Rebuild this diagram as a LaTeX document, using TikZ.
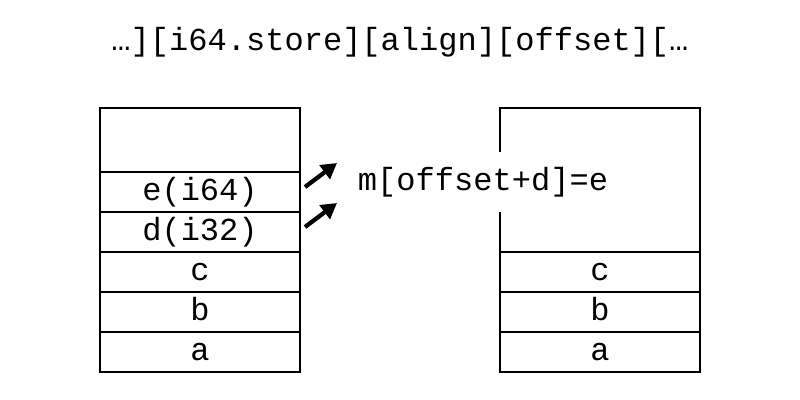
\documentclass[tikz,border=0pt]{standalone}
\usepackage{fontspec}
\setmonofont{Liberation Mono}
\usetikzlibrary{positioning,arrows.meta}

\begin{document}
\begin{tikzpicture}[
  mono/.style={font=\ttfamily\fontsize{22.8}{27}\selectfont},
  cell/.style={mono,draw,line width=0.8pt,outer sep=0pt,inner sep=0pt,
    minimum width=5cm,minimum height=1cm,text height=15pt,text depth=3.2pt},
  push/.style={line width=3pt,-{Triangle[length=11pt,width=12pt]}}
]
\useasboundingbox (0,0) rectangle (20,-10);
\node (title) at (10,-1.05) [mono] {…][i64.store][align][offset][…};
% stack before the store
\node (ltop) at (5,-3.5) [cell,minimum height=1.6cm] {};
\node (le) [cell,below=0pt of ltop] {e(i64)};
\node (ld) [cell,below=0pt of le] {d(i32)};
\node (lc) [cell,below=0pt of ld] {c};
\node (lb) [cell,below=0pt of lc] {b};
\node (la) [cell,below=0pt of lb] {a};
% stack after the store
\node (rtop) at (15,-4.5) [cell,minimum height=3.6cm] {};
\node (rc) [cell,below=0pt of rtop] {c};
\node (rb) [cell,below=0pt of rc] {b};
\node (ra) [cell,below=0pt of rb] {a};
\node (store) at (12.075,-4.55) [mono,fill=white,minimum height=1.5cm,inner xsep=3pt] {m[offset+d]=e};
\coordinate (eTail) at ([shift={(0.125,0.125)}]le.east);
\coordinate (eTip) at ([shift={(0.925,0.725)}]le.east);
\coordinate (dTail) at ([shift={(0.125,0.125)}]ld.east);
\coordinate (dTip) at ([shift={(0.925,0.725)}]ld.east);
\draw [push] (eTail) -- (eTip);
\draw [push] (dTail) -- (dTip);
\end{tikzpicture}
\end{document}
